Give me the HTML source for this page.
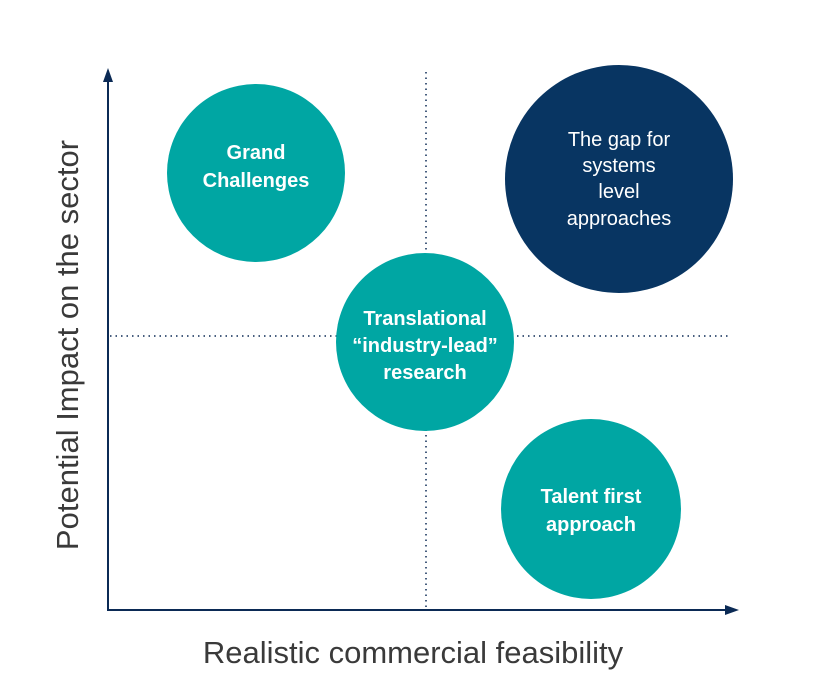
<!DOCTYPE html>
<html><head><meta charset="utf-8"><style>
html,body{margin:0;padding:0;background:#fff;}
svg{display:block;}
text{font-family:"Liberation Sans",sans-serif;}
</style></head><body>
<svg width="813" height="692" viewBox="0 0 813 692" xmlns="http://www.w3.org/2000/svg">
<line x1="426" y1="72" x2="426" y2="607" stroke="#0b2a55" stroke-width="1.5" stroke-dasharray="1.5 4"/>
<line x1="110" y1="336" x2="728" y2="336" stroke="#0b2a55" stroke-width="1.5" stroke-dasharray="1.5 4"/>
<line x1="108" y1="80" x2="108" y2="611" stroke="#0b2a55" stroke-width="2"/>
<polygon points="108,68 103,82 113,82" fill="#0b2a55"/>
<line x1="107" y1="610" x2="728" y2="610" stroke="#0b2a55" stroke-width="2"/>
<polygon points="739,610 725,605 725,615" fill="#0b2a55"/>
<circle cx="256" cy="173" r="89" fill="#00A6A3"/>
<circle cx="619" cy="179" r="114" fill="#083562"/>
<circle cx="425" cy="342" r="89" fill="#00A6A3"/>
<circle cx="591" cy="509" r="90" fill="#00A6A3"/>
<g fill="#fff" font-weight="bold" font-size="20" text-anchor="middle">
<text x="256" y="159">Grand</text>
<text x="256" y="187">Challenges</text>
<text x="425" y="325">Translational</text>
<text x="425" y="352">“industry-lead”</text>
<text x="425" y="379">research</text>
<text x="591" y="503">Talent first</text>
<text x="591" y="531">approach</text>
</g>
<g fill="#fff" font-size="20" text-anchor="middle">
<text x="619" y="146">The gap for</text>
<text x="619" y="172">systems</text>
<text x="619" y="198">level</text>
<text x="619" y="225">approaches</text>
</g>
<text x="413" y="663" font-size="31" fill="#3a3a3a" text-anchor="middle">Realistic commercial feasibility</text>
<text transform="translate(78,345) rotate(-90)" font-size="31" fill="#3a3a3a" text-anchor="middle">Potential Impact on the sector</text>
</svg>
</body></html>
